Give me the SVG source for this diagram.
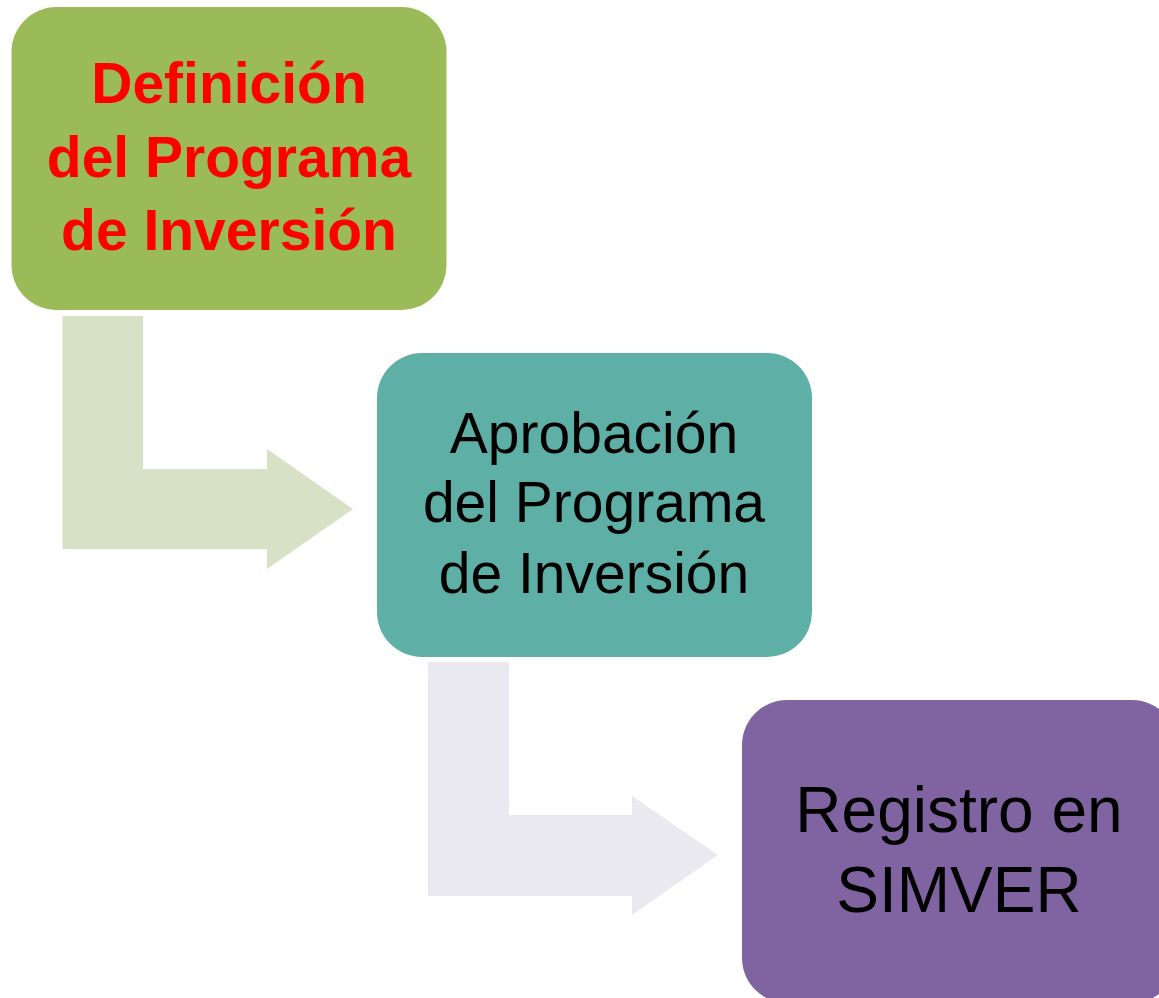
<svg xmlns="http://www.w3.org/2000/svg" width="1159" height="998" viewBox="0 0 1159 998">
<style>
.box{stroke:none}
.t{font-family:"Liberation Sans",Arial,sans-serif;text-anchor:middle}
</style>
<rect width="1159" height="998" fill="#ffffff"/>
<g id="connectors">
<path id="arrow1" d="M62.5,316 H143 V469 H267 V449 L353,509 L267,569 V549 H62.5 Z" fill="#D7E1C5"/>
<path id="arrow2" d="M428,662 H509 V815 H632 V796 L718,855 L632,915 V896 H428 Z" fill="#EBE9F0"/>
</g>
<g id="node1">
<rect class="box" x="11.5" y="7" width="435" height="303" rx="45" fill="#9BBB59"/>
<text class="t" font-weight="bold" font-size="57" fill="#FF0000"><tspan x="229" y="103">Definición</tspan><tspan x="229" y="177">del Programa</tspan><tspan x="229" y="250">de Inversión</tspan></text>
</g>
<g id="node2">
<rect class="box" x="377" y="353" width="435" height="304" rx="45" fill="#5EAFA6"/>
<text class="t" font-size="57" fill="#000000"><tspan x="594" y="453">Aprobación</tspan><tspan x="594" y="522">del Programa</tspan><tspan x="594" y="593">de Inversión</tspan></text>
</g>
<g id="node3">
<rect class="box" x="742" y="700" width="435" height="303" rx="45" fill="#8064A2"/>
<text class="t" font-size="64" fill="#000000"><tspan x="959" y="832">Registro en</tspan><tspan x="959" y="912">SIMVER</tspan></text>
</g>
</svg>
